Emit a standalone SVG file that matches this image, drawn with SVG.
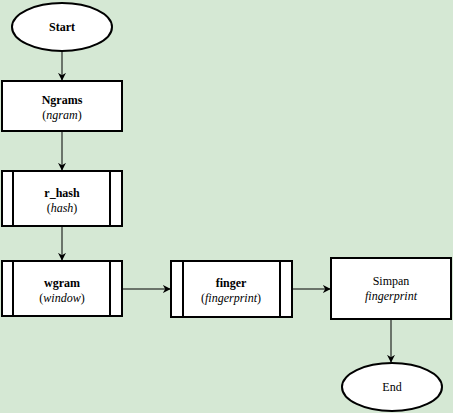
<svg xmlns="http://www.w3.org/2000/svg" width="453" height="413" viewBox="0 0 453 413">
<style>
.n{fill:#fff;stroke:#000;stroke-width:2}
.in{stroke:#000;stroke-width:2;fill:none}
.c{stroke:#000;stroke-width:1;fill:none}
.b{font-weight:bold}
.i{font-style:italic}
</style>
<defs>
<marker id="a" viewBox="0 0 10 10" refX="9" refY="5" markerWidth="8" markerHeight="8" markerUnits="userSpaceOnUse" orient="auto">
<path d="M0,0L10,5L0,10L3,5Z" fill="#000"/>
</marker>
</defs>
<rect width="453" height="413" fill="#d5e8d4"/>
<g id="connectors">
<path class="c" d="M62,51V80" marker-end="url(#a)"/>
<path class="c" d="M62,132V170" marker-end="url(#a)"/>
<path class="c" d="M62,227V260" marker-end="url(#a)"/>
<path class="c" d="M122,289H170" marker-end="url(#a)"/>
<path class="c" d="M292,289H330" marker-end="url(#a)"/>
<path class="c" d="M391,320V362" marker-end="url(#a)"/>
</g>
<g font-family="Liberation Serif" font-size="12" text-anchor="middle" fill="#000">
<g id="start">
<ellipse class="n" cx="62" cy="27" rx="50" ry="24"/>
<text class="b" x="62" y="31">Start</text>
</g>
<g id="ngrams">
<rect class="n" x="2" y="81" width="120" height="50"/>
<text class="b" x="62" y="104">Ngrams</text>
<text x="62" y="119">(<tspan class="i">ngram</tspan>)</text>
</g>
<g id="r_hash">
<rect class="n" x="2" y="171" width="120" height="55"/>
<path class="in" d="M13,171V226M110,171V226"/>
<text class="b" x="62" y="197">r_hash</text>
<text x="62" y="212">(<tspan class="i">hash</tspan>)</text>
</g>
<g id="wgram">
<rect class="n" x="2" y="261" width="120" height="55"/>
<path class="in" d="M13,261V316M110,261V316"/>
<text class="b" x="62" y="287">wgram</text>
<text x="62" y="302">(<tspan class="i">window</tspan>)</text>
</g>
<g id="finger">
<rect class="n" x="171" y="261" width="121" height="56"/>
<path class="in" d="M183,261V317M280,261V317"/>
<text class="b" x="231" y="287">finger</text>
<text x="231" y="302">(<tspan class="i">fingerprint</tspan>)</text>
</g>
<g id="simpan">
<rect class="n" x="331" y="258" width="120" height="61"/>
<text x="391" y="285">Simpan</text>
<text class="i" x="391" y="300">fingerprint</text>
</g>
<g id="end">
<ellipse class="n" cx="392" cy="387" rx="50" ry="24"/>
<text x="392" y="391">End</text>
</g>
</g>
</svg>
